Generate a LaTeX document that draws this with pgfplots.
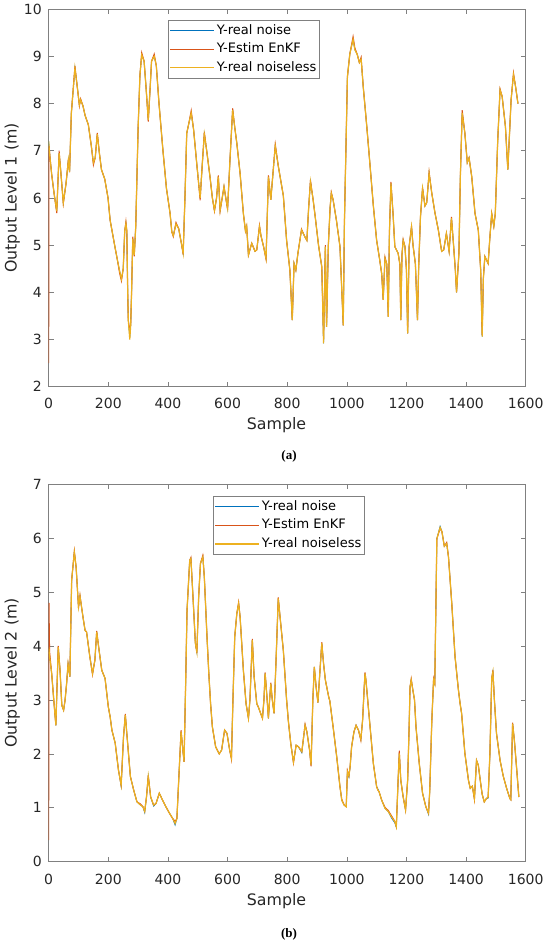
\documentclass[border=0pt]{standalone}
\usepackage{fontspec}
\setmainfont{DejaVu Sans}
\newfontfamily\capfont{Liberation Serif}
\usepackage{pgfplots}
\usepackage{pgfplotstable}
\pgfplotsset{compat=1.18}
\definecolor{mblue}{rgb}{0,0.447,0.741}
\definecolor{mred}{rgb}{0.85,0.325,0.098}
\definecolor{myel}{rgb}{0.929,0.694,0.125}
\definecolor{axgray}{rgb}{0.5,0.5,0.5}
\definecolor{txt}{rgb}{0.15,0.15,0.15}

\pgfplotstableread{
x n e c
0 7.20 2.50 7.20
1 7.10 7.10 7.10
4 6.87 6.90 6.87
10 6.50 6.50 6.50
18 6.10 6.10 6.10
27 5.72 5.68 5.72
35 6.95 7.00 6.95
40 6.60 6.60 6.60
49 5.90 5.88 5.90
58 6.30 6.30 6.30
66 6.80 6.82 6.80
70 6.55 6.55 6.55
76 7.80 7.80 7.80
88 8.75 8.80 8.75
95 8.40 8.40 8.40
103 7.97 7.95 7.97
107 8.08 8.10 8.08
115 7.95 7.95 7.95
122 7.75 7.75 7.75
133 7.55 7.55 7.55
143 7.10 7.10 7.10
150 6.75 6.70 6.75
156 6.85 6.85 6.85
163 7.35 7.38 7.35
170 6.95 6.95 6.95
177 6.60 6.60 6.60
188 6.40 6.40 6.40
199 6.00 6.00 6.00
206 5.53 5.53 5.53
214 5.25 5.25 5.25
222 4.97 4.97 4.97
230 4.70 4.70 4.70
238 4.45 4.40 4.45
244 4.28 4.24 4.28
250 4.50 4.50 4.50
255 5.30 5.30 5.30
259 5.46 5.50 5.46
262 5.30 5.30 5.30
265 4.00 4.00 4.00
267 3.41 3.40 3.41
272 3.05 3.20 3.00
275 3.30 3.30 3.30
278 4.00 4.00 4.00
282 5.14 5.18 5.14
287 4.79 4.76 4.79
292 5.40 5.40 5.40
300 7.50 7.50 7.50
306 8.60 8.60 8.60
312 9.03 9.08 9.03
320 8.90 8.90 8.90
327 8.30 8.30 8.30
334 7.65 7.62 7.65
340 8.30 8.30 8.30
345 8.90 8.90 8.90
354 9.00 9.05 9.00
361 8.80 8.80 8.80
370 8.00 8.00 8.00
383 7.02 7.02 7.02
395 6.20 6.20 6.20
407 5.68 5.68 5.68
413 5.28 5.28 5.28
418 5.20 5.18 5.20
427 5.45 5.48 5.45
436 5.35 5.35 5.35
445 5.04 5.04 5.04
451 4.83 4.80 4.83
457 6.00 6.00 6.00
463 7.37 7.37 7.37
469 7.55 7.55 7.55
478 7.80 7.85 7.80
486 7.45 7.45 7.45
497 6.70 6.70 6.70
508 6.00 5.95 6.00
515 6.70 6.70 6.70
522 7.35 7.40 7.35
530 7.00 7.00 7.00
541 6.45 6.45 6.45
549 6.00 6.00 6.00
556 5.74 5.72 5.74
563 6.00 6.00 6.00
569 6.45 6.48 6.45
575 5.74 5.72 5.74
582 6.00 6.00 6.00
588 6.24 6.24 6.24
594 6.00 6.00 6.00
600 5.78 5.75 5.78
608 6.80 6.80 6.80
617 7.86 7.90 7.86
624 7.50 7.50 7.50
631 7.16 7.16 7.16
642 6.52 6.52 6.52
653 5.67 5.67 5.67
660 5.30 5.30 5.30
664 5.40 5.40 5.40
670 4.79 4.79 4.79
681 5.04 5.04 5.04
692 4.87 4.87 4.87
698 4.90 4.90 4.90
707 5.39 5.42 5.39
712 5.20 5.20 5.20
721 4.96 4.96 4.96
729 4.72 4.70 4.72
737 6.45 6.48 6.45
745 5.96 5.96 5.96
760 7.10 7.14 7.10
770 6.68 6.68 6.68
787 6.05 6.05 6.05
798 5.10 5.10 5.10
809 4.47 4.47 4.47
817 3.41 3.41 3.41
823 4.61 4.61 4.61
829 4.47 4.47 4.47
836 4.83 4.83 4.83
848 5.32 5.34 5.32
859 5.18 5.18 5.18
866 5.10 5.10 5.10
872 5.80 5.80 5.80
878 6.34 6.38 6.34
887 5.96 5.96 5.96
894 5.60 5.60 5.60
905 5.00 5.00 5.00
916 4.54 4.54 4.54
922 2.92 3.00 2.92
928 4.97 5.00 4.97
932 3.27 3.27 3.27
938 5.00 5.00 5.00
944 5.80 5.80 5.80
948 6.10 6.12 6.10
954 5.96 5.96 5.96
965 5.53 5.53 5.53
977 4.97 4.97 4.97
988 3.30 3.30 3.30
992 5.50 5.50 5.50
994 6.13 6.13 6.13
1002 8.57 8.57 8.57
1010 9.05 9.05 9.05
1021 9.36 9.42 9.36
1027 9.14 9.18 9.14
1035 9.04 9.04 9.04
1042 8.87 8.87 8.87
1048 8.94 8.98 8.94
1055 8.36 8.36 8.36
1067 7.51 7.51 7.51
1078 6.68 6.68 6.68
1089 5.83 5.83 5.83
1100 5.10 5.10 5.10
1110 4.70 4.70 4.70
1117 4.40 4.38 4.40
1122 3.84 3.84 3.84
1128 4.72 4.75 4.72
1134 4.60 4.60 4.60
1139 3.48 3.48 3.48
1143 5.30 5.30 5.30
1148 6.31 6.34 6.31
1155 5.67 5.67 5.67
1161 4.97 4.97 4.97
1172 4.83 4.83 4.83
1178 4.60 4.58 4.60
1181 3.41 3.41 3.41
1185 4.80 4.80 4.80
1189 5.10 5.12 5.10
1195 4.97 4.97 4.97
1200 4.47 4.47 4.47
1204 3.13 3.13 3.13
1209 4.97 4.97 4.97
1217 5.39 5.40 5.39
1222 5.00 5.00 5.00
1230 4.60 4.60 4.60
1237 3.41 3.41 3.41
1241 4.54 4.54 4.54
1247 5.60 5.60 5.60
1254 6.20 6.22 6.20
1262 5.83 5.83 5.83
1268 5.90 5.90 5.90
1276 6.52 6.55 6.52
1285 6.10 6.10 6.10
1296 5.67 5.67 5.67
1307 5.32 5.32 5.32
1318 4.87 4.87 4.87
1325 4.90 4.90 4.90
1334 5.25 5.25 5.25
1343 4.87 4.87 4.87
1351 5.57 5.60 5.57
1358 5.00 5.00 5.00
1364 4.47 4.47 4.47
1368 4.00 4.00 4.00
1376 4.83 4.83 4.83
1381 6.50 6.50 6.50
1387 7.80 7.86 7.80
1396 7.37 7.37 7.37
1404 6.75 6.75 6.75
1410 6.85 6.85 6.85
1419 6.45 6.45 6.45
1430 5.67 5.67 5.67
1441 5.32 5.32 5.32
1449 4.47 4.47 4.47
1454 3.06 3.10 3.06
1458 4.30 4.30 4.30
1463 4.76 4.76 4.76
1474 4.61 4.61 4.61
1480 5.18 5.18 5.18
1486 5.67 5.67 5.67
1493 5.40 5.40 5.40
1498 5.67 5.67 5.67
1506 7.20 7.20 7.20
1514 8.29 8.31 8.29
1521 8.15 8.15 8.15
1532 7.51 7.51 7.51
1540 6.60 6.60 6.60
1546 7.40 7.40 7.40
1551 8.08 8.08 8.08
1559 8.61 8.65 8.61
1566 8.36 8.36 8.36
1574 8.00 8.00 8.00
}\topdata

\pgfplotstableread{
x n e c
0 3.90 0.40 3.90
1 3.92 4.80 3.92
3 3.80 3.90 3.80
10 3.49 3.49 3.49
17 3.00 3.00 3.00
24 2.53 2.53 2.53
32 3.98 4.00 3.98
38 3.55 3.55 3.55
44 2.90 2.90 2.90
50 2.81 2.81 2.81
55 3.00 3.00 3.00
60 3.30 3.30 3.30
65 3.67 3.67 3.67
71 3.43 3.43 3.43
77 5.22 5.22 5.22
86 5.74 5.76 5.74
92 5.46 5.46 5.46
100 4.73 4.70 4.73
105 4.92 4.94 4.92
110 4.73 4.73 4.73
116 4.50 4.50 4.50
122 4.29 4.29 4.29
127 4.26 4.26 4.26
138 3.80 3.80 3.80
147 3.49 3.47 3.49
155 3.74 3.74 3.74
161 4.26 4.28 4.26
169 3.92 3.92 3.92
178 3.55 3.55 3.55
189 3.40 3.40 3.40
200 2.87 2.87 2.87
206 2.69 2.69 2.69
212 2.44 2.44 2.44
223 2.20 2.20 2.20
234 1.70 1.70 1.70
243 1.40 1.42 1.42
251 2.32 2.32 2.32
257 2.72 2.74 2.72
262 2.38 2.38 2.38
274 1.58 1.58 1.58
285 1.33 1.33 1.33
296 1.11 1.11 1.11
308 1.05 1.07 1.05
316 1.02 1.02 1.02
322 0.91 0.94 0.93
328 1.20 1.20 1.20
334 1.58 1.60 1.58
342 1.20 1.20 1.20
352 1.03 1.05 1.05
360 1.08 1.08 1.08
371 1.27 1.27 1.27
382 1.14 1.14 1.14
393 1.02 1.02 1.02
405 0.90 0.90 0.90
416 0.80 0.80 0.80
424 0.68 0.75 0.71
430 0.80 0.80 0.80
436 1.50 1.50 1.50
444 2.41 2.44 2.41
449 2.13 2.13 2.13
454 1.85 1.85 1.85
459 3.20 3.20 3.20
464 4.66 4.66 4.66
473 5.59 5.59 5.59
477 5.62 5.64 5.62
484 4.91 4.91 4.91
492 4.05 4.05 4.05
497 3.89 3.87 3.89
503 4.91 4.91 4.91
509 5.53 5.53 5.53
517 5.65 5.68 5.65
522 5.28 5.28 5.28
531 4.17 4.17 4.17
537 3.50 3.50 3.50
543 2.93 2.93 2.93
549 2.50 2.50 2.50
560 2.13 2.13 2.13
572 2.00 2.00 2.00
580 2.07 2.07 2.07
590 2.44 2.44 2.44
598 2.38 2.38 2.38
607 2.07 2.07 2.07
613 1.92 1.90 1.92
618 3.00 3.00 3.00
624 4.17 4.17 4.17
631 4.60 4.60 4.60
637 4.79 4.81 4.79
642 4.54 4.54 4.54
653 3.55 3.55 3.55
662 2.93 2.93 2.93
670 2.66 2.66 2.66
675 3.00 3.00 3.00
683 4.11 4.13 4.11
689 3.43 3.43 3.43
698 2.93 2.93 2.93
703 2.87 2.87 2.87
709 2.78 2.78 2.78
717 2.66 2.66 2.66
722 3.00 3.00 3.00
726 3.49 3.51 3.49
732 3.06 3.06 3.06
737 2.66 2.66 2.66
741 3.00 3.00 3.00
745 3.30 3.32 3.30
750 3.00 3.00 3.00
756 2.75 2.75 2.75
763 3.80 3.80 3.80
770 4.88 4.90 4.88
775 4.60 4.60 4.60
787 3.92 3.92 3.92
798 3.00 3.00 3.00
804 2.60 2.60 2.60
812 2.19 2.19 2.19
821 1.85 1.83 1.85
830 2.16 2.16 2.16
838 2.13 2.13 2.13
849 2.02 2.04 2.04
860 2.53 2.55 2.53
866 2.41 2.41 2.41
875 2.07 2.07 2.07
880 1.79 1.77 1.79
886 3.00 3.00 3.00
891 3.61 3.61 3.61
897 3.24 3.24 3.24
903 2.95 2.95 2.95
916 4.05 4.07 4.05
922 3.67 3.67 3.67
928 3.37 3.37 3.37
939 3.06 3.06 3.06
943 2.98 2.98 2.98
954 2.50 2.50 2.50
966 1.95 1.95 1.95
977 1.39 1.39 1.39
983 1.14 1.16 1.14
991 1.05 1.05 1.05
998 1.02 1.02 1.02
1002 1.67 1.69 1.67
1007 1.57 1.59 1.59
1011 1.76 1.76 1.76
1016 2.13 2.13 2.13
1024 2.41 2.41 2.41
1031 2.53 2.53 2.53
1039 2.44 2.44 2.44
1047 2.27 2.25 2.27
1053 2.63 2.63 2.63
1058 3.20 3.20 3.20
1061 3.49 3.51 3.49
1064 3.37 3.37 3.37
1070 3.00 3.00 3.00
1078 2.50 2.50 2.50
1089 1.82 1.82 1.82
1100 1.39 1.39 1.39
1104 1.35 1.33 1.33
1108 1.30 1.30 1.30
1117 1.14 1.14 1.14
1128 0.99 1.01 0.99
1139 0.93 0.95 0.93
1150 0.81 0.85 0.83
1161 0.72 0.75 0.74
1166 0.64 0.65 0.65
1172 1.51 1.51 1.51
1176 2.01 2.06 2.01
1181 1.51 1.51 1.51
1189 1.20 1.20 1.20
1197 0.96 0.96 0.96
1204 1.51 1.51 1.51
1209 2.50 2.50 2.50
1212 3.24 3.24 3.24
1216 3.37 3.39 3.37
1221 3.20 3.20 3.20
1227 3.00 3.00 3.00
1232 2.50 2.50 2.50
1243 1.82 1.82 1.82
1254 1.27 1.27 1.27
1265 1.02 1.02 1.02
1274 0.88 0.90 0.90
1278 1.30 1.30 1.30
1285 2.60 2.60 2.60
1291 3.37 3.39 3.37
1295 3.30 3.30 3.30
1302 5.99 5.99 5.99
1313 6.22 6.18 6.20
1319 6.12 6.12 6.12
1327 5.85 5.85 5.85
1335 5.90 5.92 5.90
1341 5.65 5.65 5.65
1352 4.79 4.79 4.79
1363 3.80 3.80 3.80
1374 3.20 3.20 3.20
1380 2.93 2.93 2.93
1385 2.75 2.75 2.75
1396 2.01 2.01 2.01
1408 1.51 1.51 1.51
1414 1.36 1.36 1.36
1421 1.40 1.40 1.40
1428 1.17 1.15 1.17
1435 1.88 1.88 1.88
1441 1.79 1.79 1.79
1449 1.45 1.45 1.45
1454 1.25 1.25 1.25
1461 1.11 1.11 1.11
1468 1.17 1.17 1.17
1474 1.18 1.20 1.20
1480 2.01 2.01 2.01
1486 3.40 3.40 3.40
1490 3.52 3.55 3.52
1495 3.00 3.00 3.00
1502 2.38 2.38 2.38
1514 1.88 1.88 1.88
1525 1.58 1.58 1.58
1536 1.36 1.36 1.36
1547 1.17 1.17 1.17
1550 1.15 1.15 1.15
1556 2.56 2.58 2.56
1562 2.25 2.25 2.25
1570 1.70 1.70 1.70
1577 1.20 1.20 1.20
}\botdata

\pgfplotsset{mystyle/.style={
  scale only axis, width=477pt, height=377.5pt, xmin=0, xmax=1600,
  xtick={0,200,...,1600},
  axis line style={axgray, line width=0.6pt},
  tick style={axgray, line width=0.6pt},
  major tick length=5pt, tick align=inside,
  xtick pos=both, ytick pos=both, xticklabel pos=lower, yticklabel pos=left,
  /pgf/number format/assume math mode=true,
  /pgf/number format/1000 sep={},
  ticklabel style={font=\fontsize{14}{16}\selectfont, text=txt},
  xticklabel style={anchor=base, inner sep=0pt, yshift=-22.3pt},
  yticklabel style={anchor=east, inner sep=0pt, xshift=-6.7pt},
  label style={font=\fontsize{15.8}{18}\selectfont, text=txt},
  xlabel style={at={(axis description cs:0.4776,0)}, anchor=base, yshift=-43.3pt},
  ylabel style={at={(axis description cs:0,0.5)}, anchor=base, rotate=0, yshift=32pt},
  legend style={font=\fontsize{13}{15}\selectfont, draw=axgray, line width=0.6pt, fill=white, anchor=north west, inner sep=1pt, row sep=0pt, nodes={inner ysep=2.8pt, text height=10pt, text depth=3pt, text=black}, cells={anchor=west}},
  legend image code/.code={\draw[#1] (0pt,0pt) -- (44pt,0pt);},
}}

\begin{document}
\begin{tikzpicture}[x=1pt,y=1pt]
\useasboundingbox (0,0) rectangle (550,942);
\begin{axis}[mystyle, at={(48.7pt,555.3pt)}, anchor=south west,
  ymin=2, ymax=10, ytick={2,3,...,10},
  xlabel={Sample}, ylabel={Output Level 1 (m)},
  legend style={at={(0.2507,0.9716)}}]
\addplot[mblue, line width=0.8pt] table[x=x,y=n]{\topdata};
\addplot[mred, line width=1pt] table[x=x,y=e]{\topdata};
\addplot[myel, line width=1.2pt] table[x=x,y=c]{\topdata};
\legend{Y-real noise, Y-Estim EnKF, Y-real noiseless}
\end{axis}
\node[font=\capfont\bfseries\fontsize{13}{15}\selectfont, text=black] at (289,485.3) {(a)};
\begin{axis}[mystyle, at={(48.7pt,80.3pt)}, anchor=south west,
  ymin=0, ymax=7, ytick={0,1,...,7},
  xlabel={Sample}, ylabel={Output Level 2 (m)},
  legend style={at={(0.345,0.968)}}]
\addplot[mblue, line width=0.8pt] table[x=x,y=n]{\botdata};
\addplot[mred, line width=1pt] table[x=x,y=e]{\botdata};
\addplot[myel, line width=1.2pt] table[x=x,y=c]{\botdata};
\legend{Y-real noise, Y-Estim EnKF, Y-real noiseless}
\end{axis}
\node[font=\capfont\bfseries\fontsize{13}{15}\selectfont, text=black] at (289,8) {(b)};
\end{tikzpicture}
\end{document}
